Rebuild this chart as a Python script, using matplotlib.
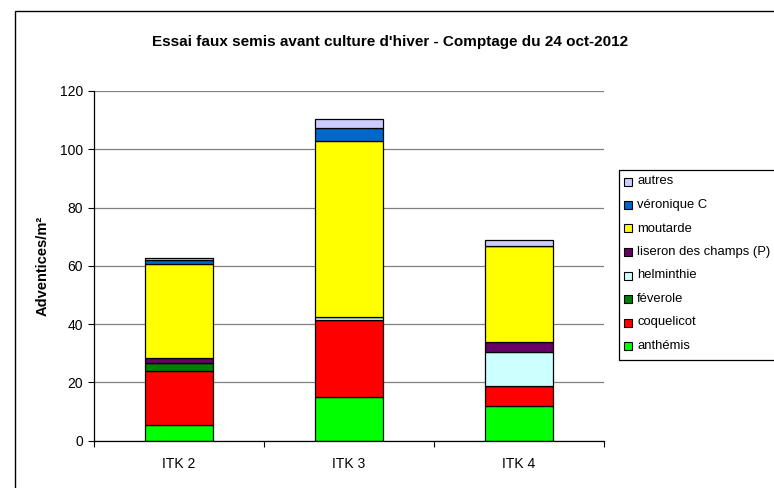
import matplotlib
matplotlib.use("Agg")
import matplotlib.pyplot as plt
from matplotlib.patches import Rectangle
import numpy as np

plt.rcParams['font.family'] = ['Liberation Sans', 'DejaVu Sans']

categories = ["ITK 2", "ITK 3", "ITK 4"]
species = ["anthémis", "coquelicot", "féverole", "helminthie",
           "liseron des champs (P)", "moutarde", "véronique C", "autres"]
colors = ["#00FF00", "#FF0000", "#008000", "#CCFFFF",
          "#660066", "#FFFF00", "#0066CC", "#CCCCFF"]

anthemis   = [5.5, 15.0, 12.0]
coquelicot = [18.5, 26.4, 6.9]
feverole   = [2.5, 0.0, 0.0]
helminthie = [0.0, 1.0, 11.5]
liseron    = [2.0, 0.0, 3.5]
moutarde   = [32.0, 60.3, 32.9]
veronique  = [1.5, 4.7, 0.0]
autres     = [0.7, 3.1, 2.1]

series = [anthemis, coquelicot, feverole, helminthie, liseron, moutarde, veronique, autres]

W, H = 774, 488
fig = plt.figure(figsize=(W / 100, H / 100), dpi=100)
fig.patch.set_facecolor("white")

def fx(px):
    return px / W

def fy(py):
    return 1 - py / H

# outer chart border (clipped by figure edges)
fig.patches.append(Rectangle((fx(15), fy(11) - 1.2), 1.2, 1.2, transform=fig.transFigure,
                             fill=False, edgecolor="black", linewidth=1.0, zorder=0))

ax = fig.add_axes([fx(94), fy(440.7), fx(604) - fx(94), fy(91) - fy(440.7)])
x = np.arange(len(categories))
bottom = np.zeros(len(categories))
for vals, col, name in zip(series, colors, species):
    v = np.array(vals)
    ax.bar(x, v, 0.4, bottom=bottom, color=col, edgecolor="black", linewidth=0.9, label=name, zorder=3)
    bottom += v

ax.set_xlim(-0.5, 2.5)
ax.set_ylim(0, 120)
ax.set_yticks(np.arange(0, 121, 20))
ax.set_xticks(x)
ax.set_xticklabels(categories)
ax.set_xticks([-0.5, 0.5, 1.5, 2.5], minor=True)
ax.tick_params(axis='x', which='major', length=0, labelsize=10, pad=12)
ax.tick_params(axis='x', which='minor', length=4, width=0.8, direction='out')
ax.tick_params(axis='y', length=4, width=0.8, direction='out', labelsize=10, pad=4)
ax.grid(axis='y', color="#808080", linewidth=0.9, zorder=0)
ax.set_axisbelow(True)
for s in ["top", "right"]:
    ax.spines[s].set_visible(False)
for s in ["left", "bottom"]:
    ax.spines[s].set_linewidth(0.9)
    ax.spines[s].set_zorder(4)
ax.set_ylabel("Adventices/m²", fontsize=10.5, fontweight='bold', labelpad=7)

fig.text(fx(390), fy(42), "Essai faux semis avant culture d'hiver - Comptage du 24 oct-2012",
         ha='center', va='center', fontsize=11, fontweight='bold')

# legend box (clipped at right figure edge)
fig.patches.append(Rectangle((fx(619), fy(360)), 0.5, fy(170) - fy(360), transform=fig.transFigure,
                             fill=False, edgecolor="black", linewidth=0.9))
y0, dy = 181.5, 23.5
for i, (name, col) in enumerate(zip(species[::-1], colors[::-1])):
    yc = y0 + i * dy
    fig.patches.append(Rectangle((fx(624), fy(yc + 4)), fx(8), fy(yc - 4) - fy(yc + 4),
                                 transform=fig.transFigure, facecolor=col,
                                 edgecolor="black", linewidth=0.8))
    fig.text(fx(637), fy(yc), name, ha='left', va='center', fontsize=9.4)

fig.savefig("out.png", dpi=100)
